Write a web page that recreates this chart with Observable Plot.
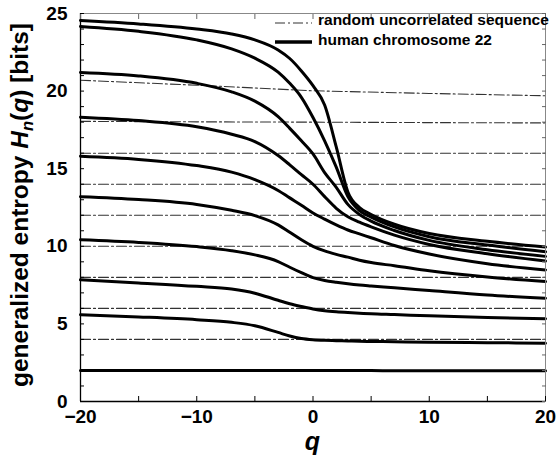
<!DOCTYPE html>
<html><head><meta charset="utf-8">
<script src="https://cdn.jsdelivr.net/npm/d3@7"></script>
<script src="https://cdn.jsdelivr.net/npm/@observablehq/plot@0.6"></script>
<style>body{margin:0;background:#fff}</style>
</head><body><div id="chart"></div>
<script>
// q grid for the human chromosome 22 curves
const q = [-20, -15, -10, -7, -5, -3, -2, -1, 0, 1, 2, 3, 4, 5, 7, 10, 15, 20];
// H_n(q) for n = 1..10
const H1  = [2.0, 2.0, 2.0, 2.0, 2.0, 2.0, 2.0, 2.0, 2.0, 1.99, 1.99, 1.99, 1.99, 1.99, 1.98, 1.98, 1.98, 1.98];
const H2  = [5.59, 5.45, 5.27, 5.1, 4.88, 4.45, 4.22, 4.06, 3.98, 3.94, 3.92, 3.9, 3.88, 3.87, 3.85, 3.82, 3.79, 3.76];
const H3  = [7.84, 7.64, 7.42, 7.25, 6.98, 6.52, 6.3, 6.12, 5.96, 5.85, 5.78, 5.73, 5.69, 5.65, 5.6, 5.52, 5.41, 5.33];
const H4  = [10.42, 10.25, 9.98, 9.72, 9.45, 9.02, 8.65, 8.3, 7.98, 7.8, 7.68, 7.58, 7.5, 7.44, 7.33, 7.15, 6.86, 6.65];
const H5  = [13.2, 13.02, 12.7, 12.32, 11.98, 11.38, 10.9, 10.42, 10.0, 9.7, 9.48, 9.3, 9.1, 8.95, 8.75, 8.42, 8.02, 7.73];
const H6  = [15.8, 15.6, 15.2, 14.78, 14.3, 13.6, 13.12, 12.65, 12.15, 11.75, 11.38, 11.05, 10.8, 10.55, 10.05, 9.5, 8.88, 8.48];
const H7  = [18.32, 18.1, 17.7, 17.22, 16.75, 15.85, 15.25, 14.62, 14.0, 13.2, 12.45, 11.9, 11.55, 11.25, 10.72, 10.12, 9.52, 9.05];
const H8  = [21.2, 20.98, 20.5, 19.95, 19.35, 18.35, 17.6, 16.8, 15.95, 14.75, 13.8, 12.7, 12.05, 11.62, 11.02, 10.38, 9.78, 9.35];
const H9  = [24.16, 23.85, 23.3, 22.72, 22.12, 21.22, 20.5, 19.6, 18.3, 16.8, 15.1, 13.2, 12.3, 11.88, 11.25, 10.62, 10.08, 9.65];
const H10 = [24.55, 24.33, 24.0, 23.68, 23.3, 22.65, 22.1, 21.3, 20.35, 19.1, 16.4, 13.5, 12.5, 12.05, 11.42, 10.82, 10.32, 9.95];

// random uncorrelated sequence
const qRandom = [-20, -10, 0, 10, 20];
const R1  = [2, 2, 2, 2, 2];
const R2  = [4, 4, 4, 4, 4];
const R3  = [6, 6, 6, 6, 6];
const R4  = [8, 8, 8, 8, 8];
const R5  = [10, 10, 10, 10, 10];
const R6  = [12, 12, 12, 12, 12];
const R7  = [14, 14, 14, 14, 14];
const R8  = [16, 16, 16, 16, 16];
const R9  = [18.05, 18.02, 18.0, 17.97, 17.95];
const R10 = [20.7, 20.38, 20.02, 19.85, 19.7];

// ticks
const xTicks = [-20, -15, -10, -5, 0, 5, 10, 15, 20];
const xTickLabels = [-20, -10, 0, 10, 20];
const yTicks = d3.range(0, 26);
const yTickLabels = [0, 5, 10, 15, 20, 25];

const legendLabels = ["random uncorrelated sequence", "human chromosome 22"];

const chromosome = [H1, H2, H3, H4, H5, H6, H7, H8, H9, H10]
  .flatMap((H, i) => H.map((h, j) => ({q: q[j], H: h, n: i + 1})));
const random = [R1, R2, R3, R4, R5, R6, R7, R8, R9, R10]
  .flatMap((R, i) => R.map((h, j) => ({q: qRandom[j], H: h, n: i + 1})));

const FONT = "'Liberation Sans', Arial, Helvetica, sans-serif";
const fmt = d => d < 0 ? "\u2212" + Math.abs(d) : String(d);

const plot = Plot.plot({
  width: 557, height: 464,
  marginLeft: 80, marginRight: 12, marginTop: 13, marginBottom: 63,
  style: {fontFamily: FONT, fontWeight: "bold", fontSize: "19px", background: "#fff", color: "#000"},
  x: {domain: [-20, 20]},
  y: {domain: [0, 25]},
  marks: [
    Plot.line(random, {x: "q", y: "H", z: "n", stroke: "#333", strokeWidth: 1.1, strokeDasharray: "10,3,2,3"}),
    Plot.line(chromosome, {x: "q", y: "H", z: "n", stroke: "#000", strokeWidth: 3, curve: "monotone-x"}),
    Plot.frame({stroke: "#888"}),
    Plot.ruleX([-20], {stroke: "#000", strokeWidth: 1.3}),
    Plot.ruleY([0], {stroke: "#000", strokeWidth: 1.3}),
    Plot.axisX(xTicks, {anchor: "bottom", tickSize: -5, fill: "none", label: null}),
    Plot.axisX(xTicks, {anchor: "top", tickSize: -5, fill: "none", label: null, stroke: "#666"}),
    Plot.axisY(yTicks, {anchor: "left", tickSize: -4, fill: "none", label: null}),
    Plot.axisY(yTicks, {anchor: "right", tickSize: -4, fill: "none", label: null, stroke: "#666"}),
    Plot.axisX(xTickLabels, {anchor: "bottom", tickSize: 0, tickPadding: 8, tickFormat: fmt, label: null, fontSize: 19, fontWeight: "bold"}),
    Plot.axisY(yTickLabels, {anchor: "left", tickSize: 0, tickPadding: 13, label: null, fontSize: 19, fontWeight: "bold"})
  ]
});

document.getElementById("chart").append(plot);
const svg = d3.select(plot);

// y-axis title
const yt = svg.append("text")
  .attr("transform", "translate(28,205) rotate(-90)")
  .attr("text-anchor", "middle")
  .style("font", `bold 24.5px ${FONT}`)
  .attr("fill", "#000");
yt.append("tspan").text("generalized entropy ");
yt.append("tspan").attr("font-style", "italic").text("H");
yt.append("tspan").attr("font-style", "italic").attr("font-size", "16.5px").attr("dy", 5).text("n");
yt.append("tspan").attr("dy", -5).text("(");
yt.append("tspan").attr("font-style", "italic").text("q");
yt.append("tspan").text(") [bits]");

// x-axis title
svg.append("text")
  .attr("x", 312.5).attr("y", 450)
  .attr("text-anchor", "middle")
  .style("font", `italic bold 25px ${FONT}`)
  .attr("fill", "#000")
  .text("q");

// legend
const lg = svg.append("g");
lg.append("line").attr("x1", 275).attr("x2", 312).attr("y1", 23).attr("y2", 23)
  .attr("stroke", "#333").attr("stroke-width", 1.1).attr("stroke-dasharray", "10,3,2,3");
lg.append("line").attr("x1", 275).attr("x2", 312).attr("y1", 42).attr("y2", 42)
  .attr("stroke", "#000").attr("stroke-width", 3.5);
lg.selectAll("text.lab").data(legendLabels).join("text")
  .attr("class", "lab")
  .attr("x", 318).attr("y", (d, i) => 25 + i * 19.5)
  .attr("text-anchor", "start")
  .style("font", `bold 15.5px ${FONT}`)
  .attr("fill", "#000")
  .text(d => d);
</script>
</body></html>
